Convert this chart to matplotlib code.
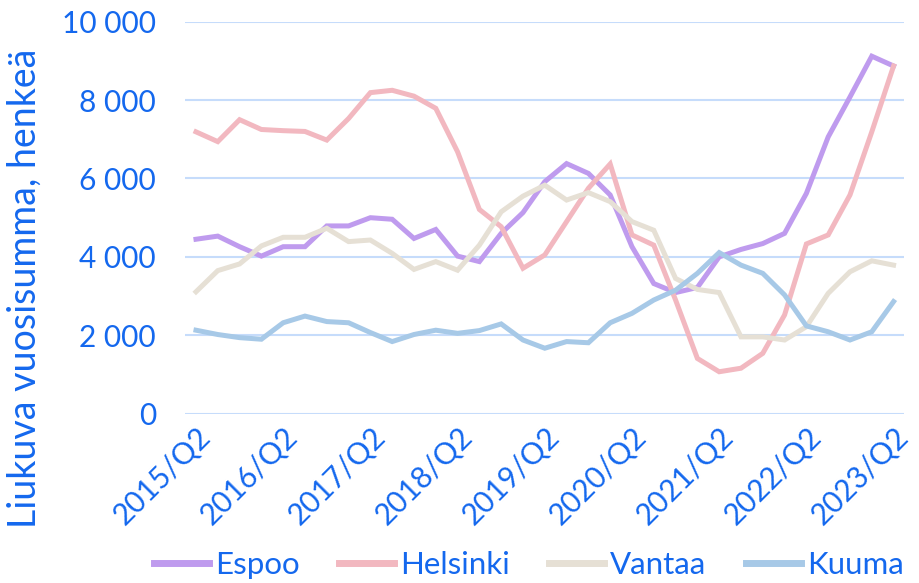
import matplotlib
matplotlib.use("Agg")
import matplotlib.pyplot as plt
import numpy as np

years = list(range(2015, 2024))
quarters = [f"{y}/Q{q}" for y in range(2015, 2024) for q in (1, 2, 3, 4)]
quarters = quarters[1:quarters.index("2023/Q2") + 1]
tick_labels = [f"{y}/Q2" for y in years]

espoo = [4450, 4530, 4260, 4020, 4260, 4260, 4790, 4790, 5000, 4960, 4470, 4700,
         4020, 3880, 4600, 5130, 5920, 6380, 6130, 5580, 4260, 3320, 3090, 3220,
         4000, 4190, 4340, 4600, 5620, 7060, 8080, 9120, 8870]
helsinki = [7190, 6940, 7500, 7250, 7220, 7200, 6980, 7530, 8190, 8250, 8100, 7790,
            6680, 5210, 4770, 3710, 4050, 4900, 5750, 6370, 4560, 4300, 2900, 1410,
            1070, 1160, 1540, 2520, 4330, 4560, 5580, 7190, 8870]
vantaa = [3110, 3650, 3820, 4280, 4500, 4500, 4730, 4390, 4430, 4090, 3680, 3880,
          3660, 4300, 5150, 5550, 5830, 5450, 5640, 5410, 4900, 4680, 3450, 3170,
          3090, 1960, 1960, 1880, 2220, 3070, 3620, 3900, 3790]
kuuma = [2130, 2020, 1940, 1900, 2320, 2490, 2350, 2320, 2070, 1840, 2020, 2130,
         2050, 2120, 2290, 1880, 1670, 1840, 1810, 2320, 2560, 2900, 3150, 3580,
         4110, 3790, 3580, 3030, 2240, 2090, 1880, 2090, 2860]

series = [("Espoo", espoo, "#bf9bee"),
          ("Helsinki", helsinki, "#f2b8c0"),
          ("Vantaa", vantaa, "#e6e0d5"),
          ("Kuuma", kuuma, "#a7c9e7")]

txt = "#1468ee"
plt.rcParams['font.family'] = ['Lato', 'DejaVu Sans']

fig = plt.figure(figsize=(9.19, 5.83), dpi=100)
ax = fig.add_axes([0.2014, 0.2904, 0.9842 - 0.2014, 0.9628 - 0.2904])

x = np.arange(len(quarters))
for name, vals, col in series:
    ax.plot(x, vals, color=col, lw=3.6, label=name, solid_joinstyle='miter', zorder=3)

ax.set_xlim(-0.5, len(quarters) - 0.5)
ax.set_ylim(0, 10000)
ax.set_yticks(np.arange(0, 10001, 2000))
ax.set_yticklabels([f"{v:,}".replace(",", " ") for v in range(0, 10001, 2000)])
ax.yaxis.grid(True, color="#c6dcfb", lw=1.5, zorder=0)
ax.set_axisbelow(True)
for s in ax.spines.values():
    s.set_visible(False)

tick_pos = [quarters.index(t) for t in tick_labels]
ax.set_xticks(tick_pos)
ax.set_xticklabels(tick_labels, rotation=45, ha='right', rotation_mode='anchor')
ax.tick_params(axis='both', length=0, labelsize=21.5, colors=txt)
ax.tick_params(axis='y', pad=21)
ax.tick_params(axis='x', pad=6)

ax.set_ylabel("Liukuva vuosisumma, henkeä", fontsize=27, color=txt)
ax.yaxis.set_label_coords(-0.198, 0.32)

leg = fig.legend(loc='center left', bbox_to_anchor=(0.1676, 0.031), ncol=4, frameon=False,
                 fontsize=22.5, handlelength=1.76, handletextpad=0.2, columnspacing=1.25,
                 borderpad=0, borderaxespad=0, labelcolor=txt)
for line in leg.get_lines():
    line.set_linewidth(5)

fig.savefig("out.png", dpi=100)
